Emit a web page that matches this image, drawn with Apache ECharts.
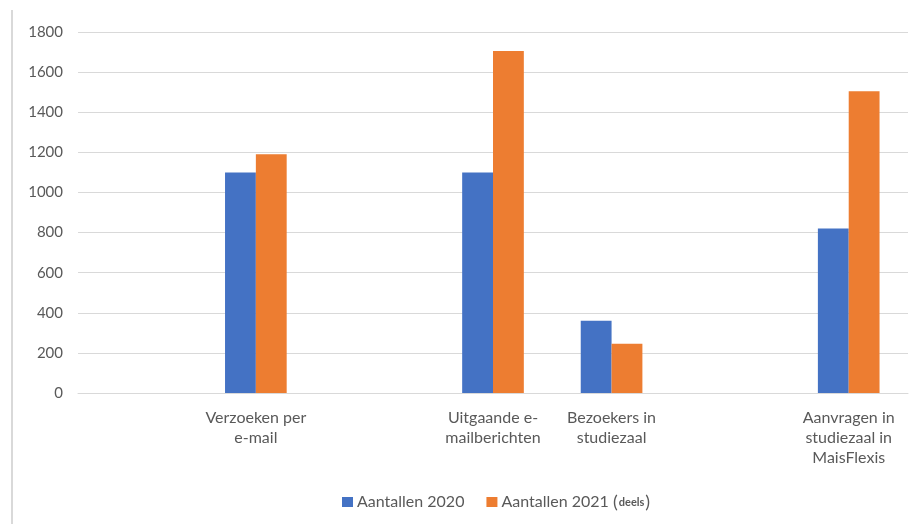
<!DOCTYPE html>
<html>
<head>
<meta charset="utf-8">
<script src="https://cdn.jsdelivr.net/npm/echarts@6/dist/echarts.min.js"></script>
<style>
html,body{margin:0;padding:0;background:#fff;}
#chart{width:916px;height:524px;}
</style>
</head>
<body>
<div id="chart"></div>
<script>
const categories = ["", "Verzoeken per\ne-mail", "", "Uitgaande e-\nmailberichten", "Bezoekers in\nstudiezaal", "", "Aanvragen in\nstudiezaal in\nMaisFlexis"];
const values2020 = [null, 1100, null, 1100, 360, null, 820];
const values2021 = [null, 1190, null, 1705, 245, null, 1505];
const yTicks = { min: 0, max: 1800, interval: 200 };
const seriesNames = ["Aantallen 2020", "Aantallen 2021 (deels)"];

const chart = echarts.init(document.getElementById('chart'));
const font = 'Lato';
chart.setOption({
  animation: false,
  backgroundColor: '#ffffff',
  graphic: [{
    type: 'line',
    shape: { x1: 12, y1: 10, x2: 12, y2: 524 },
    style: { stroke: '#d9d9d9', lineWidth: 2 }
  }],
  grid: { left: 78, right: 8, top: 32, bottom: 131 },
  legend: {
    bottom: 8,
    left: 337,
    itemWidth: 11,
    itemHeight: 10,
    itemGap: 22,
    icon: 'rect',
    textStyle: {
      fontFamily: font, fontSize: 16, color: '#595959', padding: [0, 0, 0, -1],
      rich: {
        s: { fontFamily: font, fontSize: 11, fontWeight: 'bold', color: '#595959', padding: [0, 1, 0, 1] },
        n: { fontFamily: font, fontSize: 16, color: '#595959' },
        p: { fontFamily: font, fontSize: 18, color: '#595959' }
      }
    },
    formatter: function (name) {
      if (name.indexOf('(deels)') >= 0) {
        return '{n|Aantallen 2021 }{p|(}{s|deels}{p|)}';
      }
      return name;
    },
    data: seriesNames
  },
  xAxis: {
    type: 'category',
    data: categories,
    axisTick: { show: false },
    axisLine: { lineStyle: { color: '#d9d9d9', width: 1 } },
    axisLabel: {
      interval: 0,
      fontFamily: font,
      fontSize: 16,
      color: '#595959',
      lineHeight: 20,
      margin: 15
    }
  },
  yAxis: {
    type: 'value',
    min: yTicks.min,
    max: yTicks.max,
    interval: yTicks.interval,
    axisLine: { show: false },
    axisTick: { show: false },
    splitLine: { lineStyle: { color: '#d9d9d9', width: 1 } },
    axisLabel: {
      fontFamily: font,
      fontSize: 15,
      color: '#595959',
      margin: 15,
      formatter: function (v) { return String(v); }
    }
  },
  series: [
    {
      name: seriesNames[0],
      type: 'bar',
      data: values2020,
      barGap: '0%',
      barCategoryGap: '48%',
      itemStyle: { color: '#4472C4' }
    },
    {
      name: seriesNames[1],
      type: 'bar',
      data: values2021,
      barGap: '0%',
      barCategoryGap: '48%',
      itemStyle: { color: '#ED7D31' }
    }
  ]
});
</script>
</body>
</html>
